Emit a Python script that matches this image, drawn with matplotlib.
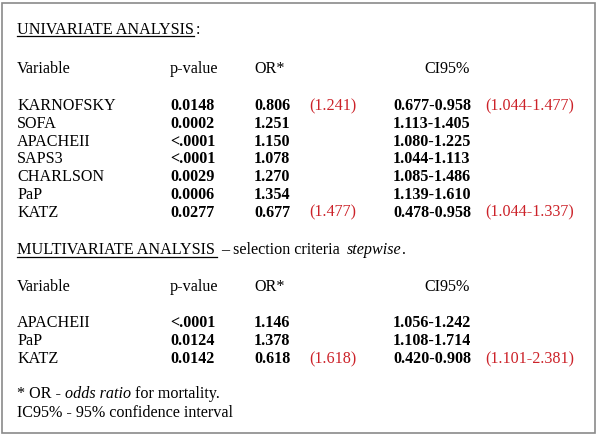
#!/usr/bin/env python3
"""
Logistic regression summary table (univariate + multivariate) drawn as plain text.
"""
import matplotlib

matplotlib.use("Agg")
import matplotlib.pyplot as plt
from matplotlib.lines import Line2D
from matplotlib.patches import Rectangle

plt.rc("font", family="Liberation Serif", size=11.6)

W, H = 597, 436
RED = "#cc2229"

uni_vars = ["KARNOFSKY", "SOFA", "APACHEII", "SAPS3", "CHARLSON", "PaP", "KATZ"]
uni_p = ["0.0148", "0.0002", "<.0001", "<.0001", "0.0029", "0.0006", "0.0277"]
uni_or = ["0.806", "1.251", "1.150", "1.078", "1.270", "1.354", "0.677"]
uni_or_inv = ["(1.241)", "", "", "", "", "", "(1.477)"]
uni_ci = ["0.677-0.958", "1.113-1.405", "1.080-1.225", "1.044-1.113",
          "1.085-1.486", "1.139-1.610", "0.478-0.958"]
uni_ci_inv = ["(1.044-1.477)", "", "", "", "", "", "(1.044-1.337)"]

multi_vars = ["APACHEII", "PaP", "KATZ"]
multi_p = ["<.0001", "0.0124", "0.0142"]
multi_or = ["1.146", "1.378", "0.618"]
multi_or_inv = ["", "", "(1.618)"]
multi_ci = ["1.056-1.242", "1.108-1.714", "0.420-0.908"]
multi_ci_inv = ["", "", "(1.101-2.381)"]

headers = ["Variable", "p-value", "OR*", "CI95%"]


def fx(x):
    return x / W


def fy(y):
    return 1 - y / H


def put(fig, x, y, s, **kw):
    return fig.text(fx(x), fy(y), s, va="baseline", **kw)


def put_runs(fig, x, y, runs):
    # lay text pieces one after another on the same baseline
    r = fig.canvas.get_renderer()
    for s, kw in runs:
        t = put(fig, x, y, s, **kw)
        x += t.get_window_extent(r).width


def underline(fig, x0, x1, y):
    fig.add_artist(Line2D([fx(x0), fx(x1)], [fy(y), fy(y)], color="black", lw=0.9))


def draw_header(fig, y):
    put(fig, 17, y, headers[0])
    put(fig, 170, y, headers[1])
    put(fig, 254, y, headers[2])
    put(fig, 470, y, headers[3], ha="right")


def draw_rows(fig, y0, step, names, p, orv, or_inv, ci, ci_inv):
    for i in range(len(names)):
        y = y0 + i * step
        put(fig, 17, y, names[i])
        put(fig, 170, y, p[i], weight="bold")
        put(fig, 254, y, orv[i], weight="bold")
        if or_inv[i]:
            put(fig, 309, y, or_inv[i], color=RED)
        put(fig, 393, y, ci[i], weight="bold")
        if ci_inv[i]:
            put(fig, 485, y, ci_inv[i], color=RED)


fig = plt.figure(figsize=(W / 100, H / 100), dpi=100)
fig.patch.set_facecolor("white")
fig.add_artist(Rectangle((fx(2), fy(433)), fx(593), 430 / H, fill=False,
                         edgecolor="#8a8a8a", lw=1.2))

# univariate block
put(fig, 17, 34, "UNIVARIATE ANALYSIS")
put(fig, 196, 34, ":")
underline(fig, 17, 194, 36.5)
draw_header(fig, 73)
draw_rows(fig, 110, 17.8, uni_vars, uni_p, uni_or, uni_or_inv, uni_ci, uni_ci_inv)

# multivariate block
put(fig, 17, 254, "MULTIVARIATE ANALYSIS")
underline(fig, 17, 217, 256.5)
put(fig, 221, 254, "\u2013 selection criteria")
put_runs(fig, 347, 254, [("stepwise", {"style": "italic"}), (".", {})])
draw_header(fig, 291)
draw_rows(fig, 327, 18, multi_vars, multi_p, multi_or, multi_or_inv, multi_ci, multi_ci_inv)

# footnotes
put_runs(fig, 17, 398, [("* OR - ", {}), ("odds ratio", {"style": "italic"}),
                        (" for mortality.", {})])
put(fig, 17, 417, "IC95% - 95% confidence interval")

fig.savefig("out.png", dpi=100)
